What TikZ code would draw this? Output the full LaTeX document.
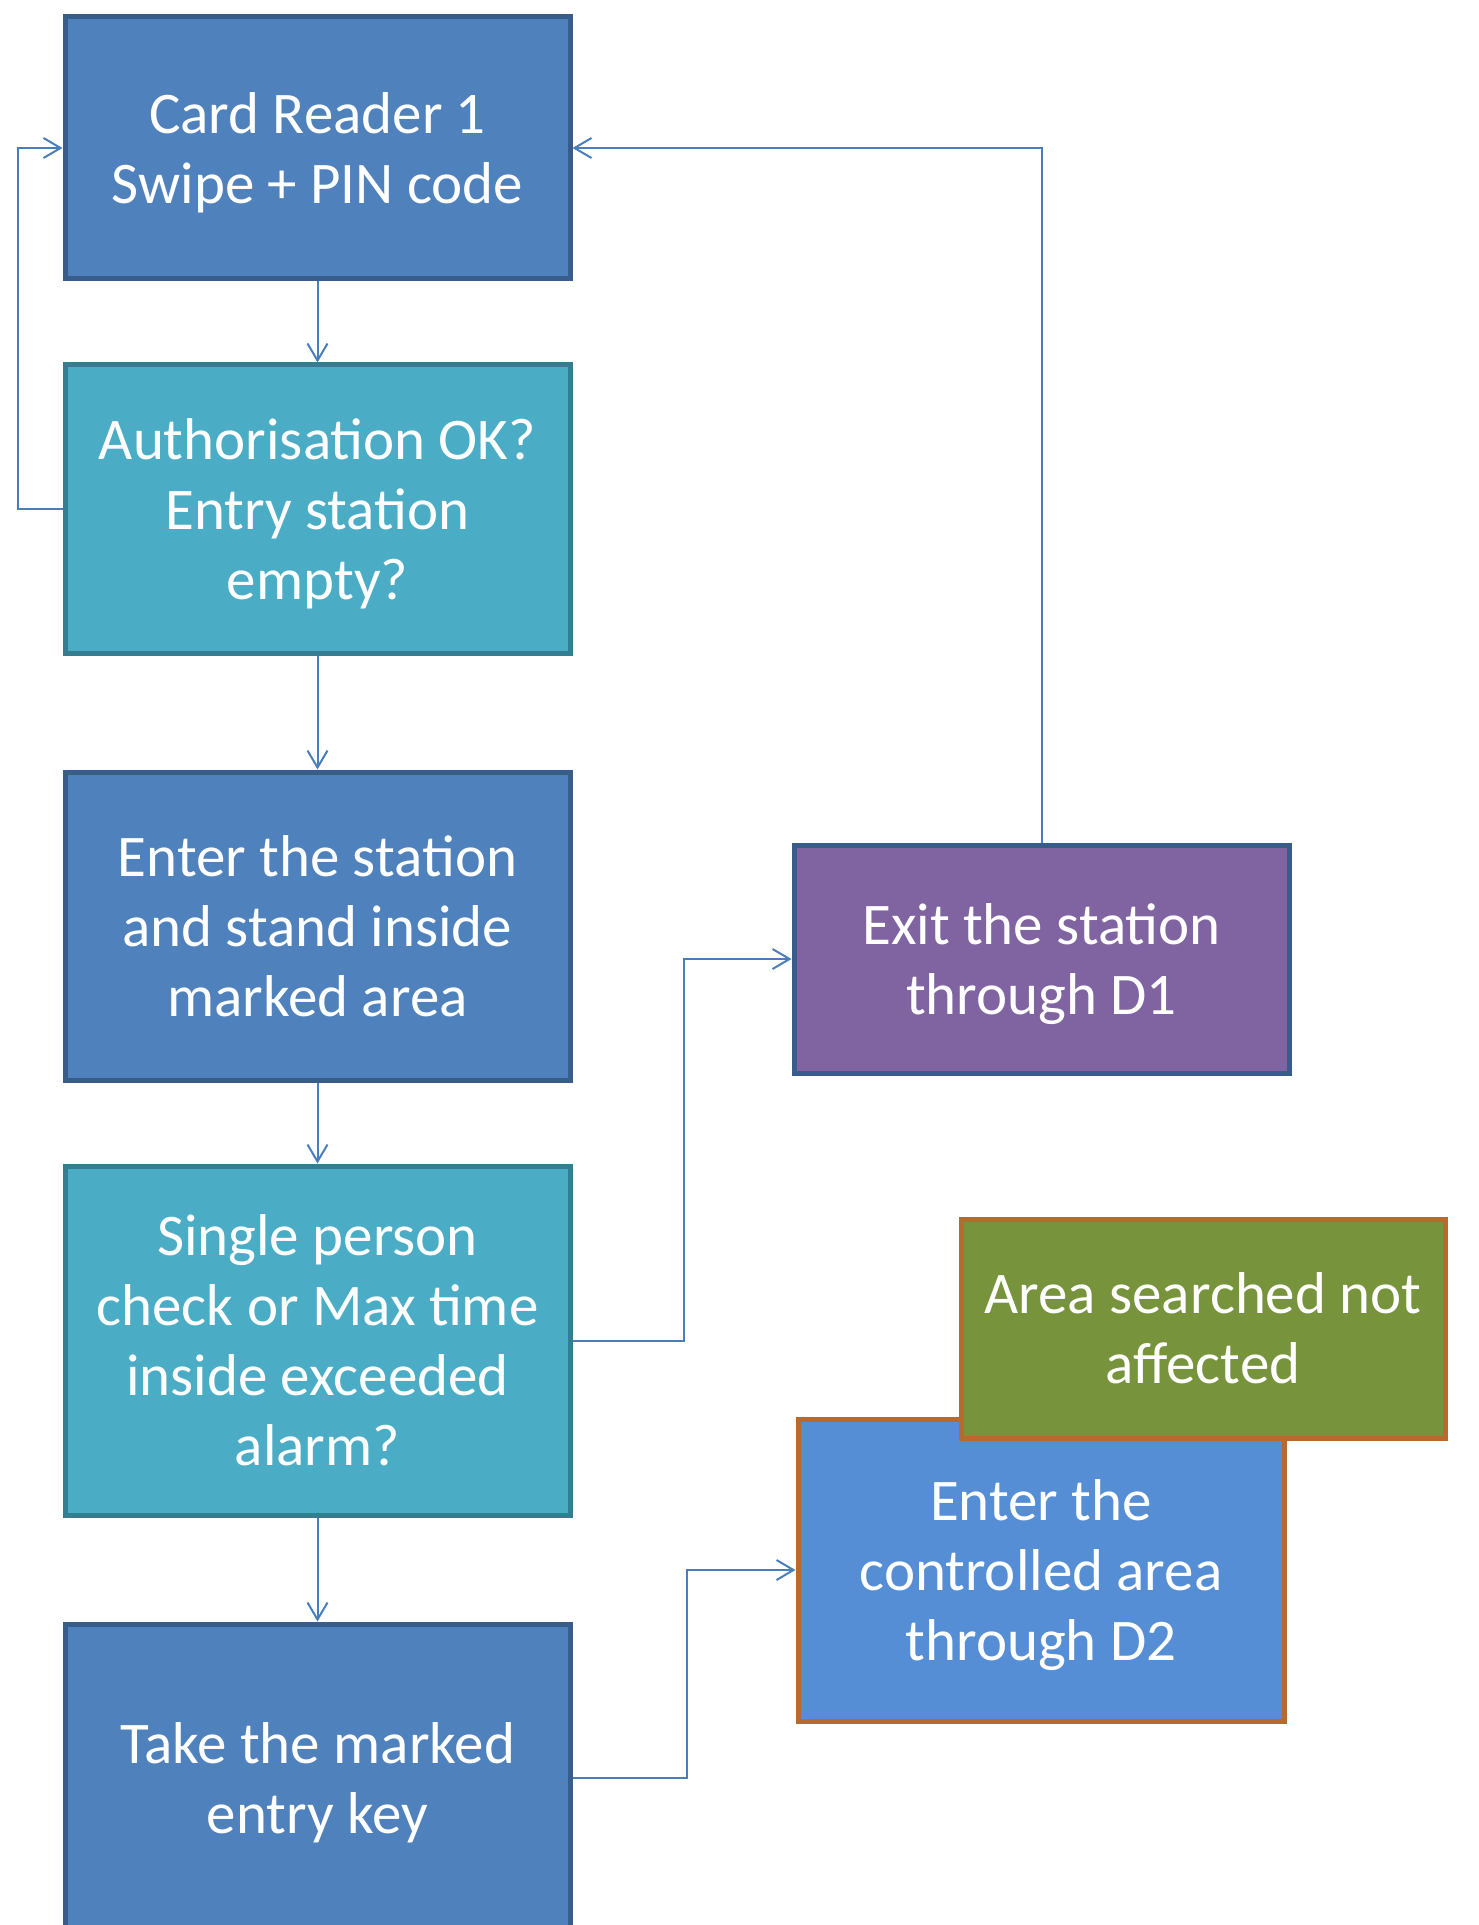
\documentclass[tikz,border=0pt]{standalone}
\usepackage{fontspec}
\setmainfont{Carlito}
\usetikzlibrary{arrows.meta}
\definecolor{bluefill}{HTML}{4F81BD}
\definecolor{blueline}{HTML}{385D8A}
\definecolor{tealfill}{HTML}{4BACC6}
\definecolor{tealline}{HTML}{357D91}
\definecolor{purplefill}{HTML}{8064A2}
\definecolor{greenfill}{HTML}{77933C}
\definecolor{lightfill}{HTML}{558ED5}
\definecolor{orangeline}{HTML}{B7692E}
\definecolor{arrowline}{HTML}{4A7EBB}
\begin{document}
\begin{tikzpicture}[x=0.5pt,y=-0.5pt,
        box/.style={draw=blueline, fill=bluefill, line width=2.5pt, text=white,
            align=center, inner sep=0pt, text depth=0pt, minimum width=252.5pt,
            font=\fontsize{29.5}{35}\selectfont},
        check/.style={box, draw=tealline, fill=tealfill},
        link/.style={arrowline, line width=1pt, -{Straight Barb[length=8.5pt,width=10pt]}}]
        \useasboundingbox (0,0) rectangle (1478,1925);
        \node [box, minimum height=131pt] (card) at (317.5, 148) {Card Reader 1\\Swipe + PIN code};
        \node [check, minimum height=144pt] (auth) at (317.5, 509) {Authorisation OK?\\Entry station\\empty?};
        \node [box, minimum height=154pt] (enter) at (317.5, 926) {Enter the station\\and stand inside\\marked area};
        \node [check, minimum height=174.5pt] (alarm) at (317.5, 1340.5) {Single person\\check or Max time\\inside exceeded\\alarm?};
        \node [box, minimum height=154pt] (key) at (317.5, 1778) {Take the marked\\entry key};
        \node [box, fill=purplefill, minimum width=247.5pt, minimum height=114pt] (exit) at (1041.5, 959) {Exit the station\\through D1};
        \node [box, draw=orangeline, fill=lightfill, minimum width=243pt, minimum height=151pt] (ctrl) at (1041, 1570) {Enter the\\controlled area\\through D2};
        \node [box, draw=orangeline, fill=greenfill, minimum width=242pt, minimum height=109.5pt] (searched) at (1203, 1328.5) {Area searched not\\affected};
        \draw [link] (card) -- (auth);
        \draw [link] (auth) -- (enter);
        \draw [link] (enter) -- (alarm);
        \draw [link] (alarm) -- (key);
        \draw [link] (auth.west) -- ++(-45,0) |- (card.west);
        \draw [link] (alarm.east) -- ++(111,0) |- (exit.west);
        \draw [link] (exit.north) |- (card.east);
        \draw [link] (key.east) -- ++(114,0) |- (ctrl.west);
    \end{tikzpicture}
\end{document}
